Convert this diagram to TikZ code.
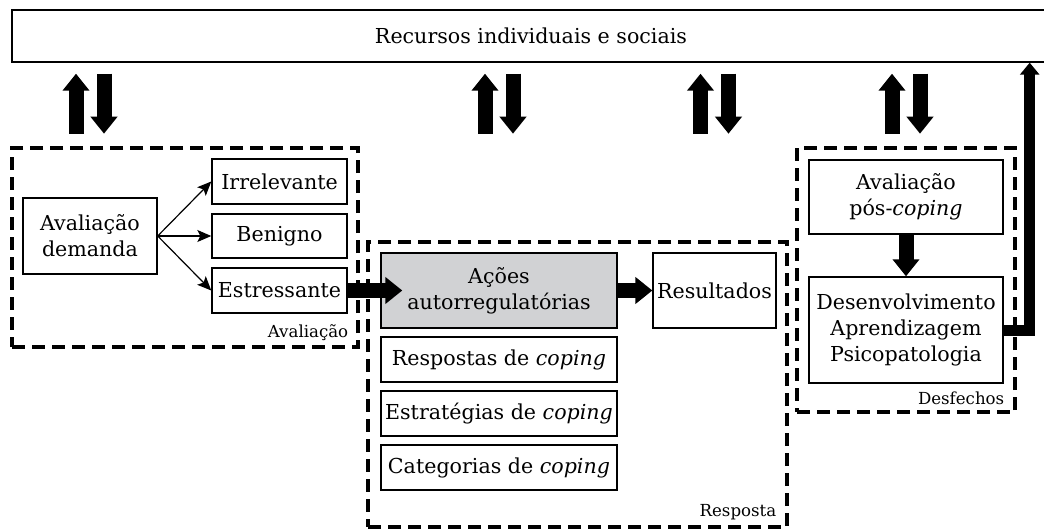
\documentclass[tikz,border=0pt]{standalone}
\usepackage{fontspec}
\setmainfont{DejaVu Serif}
\usetikzlibrary{calc,arrows.meta}
\definecolor{boxgray}{RGB}{209,210,212}

\begin{document}
\begin{tikzpicture}[x=0.5pt,y=-0.5pt,
    box/.style={draw,line width=0.7pt,inner sep=2pt,align=center,font=\fontsize{10.3}{13}\selectfont},
    group/.style={draw,line width=1.6pt,dash pattern=on 6.5pt off 3.5pt},
    grouplabel/.style={anchor=south east,inner sep=2pt,font=\fontsize{8.3}{10}\selectfont},
    thinarrow/.style={line width=0.6pt,-{Stealth[length=7pt,width=6pt,inset=1.5pt]}},
    bigarrow/.style={line width=7.5pt,-{Triangle[length=8.5pt,width=13pt]}},
    slimarrow/.style={line width=5.5pt,line join=miter,-{Triangle[length=6pt,width=9.5pt]}}]

  \useasboundingbox (0,0) rectangle (1044,530);

  \node[box,minimum width=519pt,minimum height=26pt] (recursos) at (531,36) {Recursos individuais e sociais};

  \node[group,minimum width=173pt,minimum height=99.5pt] (avaliacao) at (185,247.5) {};
  \node[group,minimum width=209.5pt,minimum height=142.5pt] (resposta) at (577.5,384.5) {};
  \node[group,minimum width=109pt,minimum height=132pt] (desfechos) at (906,280) {};

  \node[grouplabel] at ([shift={(-7,-4)}]avaliacao.south east) {Avaliação};
  \node[grouplabel] at ([shift={(-8,-4)}]resposta.south east) {Resposta};
  \node[grouplabel] at ([shift={(-8,-4)}]desfechos.south east) {Desfechos};

  \node[box,minimum width=67pt,minimum height=38pt] (demanda) at (90,236) {Avaliação\\demanda};
  \node[box,minimum width=67.5pt,minimum height=22.5pt] (irrelevante) at (279.5,181.5) {Irrelevante};
  \node[box,minimum width=67.5pt,minimum height=22pt] (benigno) at (279.5,236) {Benigno};
  \node[box,minimum width=67.5pt,minimum height=22.5pt] (estressante) at (279.5,290.5) {Estressante};

  \node[box,fill=boxgray,minimum width=118pt,minimum height=37.5pt] (acoes) at (499,290.5) {Ações\\autorregulatórias};
  \node[box,minimum width=60.5pt,minimum height=37.5pt] (resultados) at (714.5,290.5) {Resultados};
  \node[box,minimum width=118pt,minimum height=22.5pt] (respostas) at (499,359.5) {Respostas de \textit{coping}};
  \node[box,minimum width=118pt,minimum height=22.5pt] (estrategias) at (499,413.5) {Estratégias de \textit{coping}};
  \node[box,minimum width=118pt,minimum height=22.5pt] (categorias) at (499,467.5) {Categorias de \textit{coping}};

  \node[box,minimum width=97pt,minimum height=37pt] (poscoping) at (906,197) {Avaliação\\pós-\textit{coping}};
  \node[box,minimum width=97pt,minimum height=53pt] (desenvolvimento) at (906,330) {Desenvolvimento\\Aprendizagem\\Psicopatologia};

  \draw[thinarrow] (demanda.east) -- (irrelevante.west);
  \draw[thinarrow] (demanda.east) -- (benigno.west);
  \draw[thinarrow] (demanda.east) -- (estressante.west);

  \draw[bigarrow] (estressante.east) -- ($(acoes.west)+(22,0)$);
  \draw[bigarrow] (acoes.east) -- (resultados.west);
  \draw[bigarrow] (poscoping.south) -- (desenvolvimento.north);

  \coordinate (turn) at ($(desenvolvimento.east)+(26,0)$);
  \draw[slimarrow] (desenvolvimento.east) -- (turn) -- (turn |- recursos.south);

  \foreach \n in {demanda,acoes,resultados,desfechos} {
    \draw[bigarrow] ($(\n.north |- recursos.south)+(-14,71)$) -- ++(0,-60);
    \draw[bigarrow] ($(\n.north |- recursos.south)+(14,11)$) -- ++(0,60);
  }
\end{tikzpicture}
\end{document}
